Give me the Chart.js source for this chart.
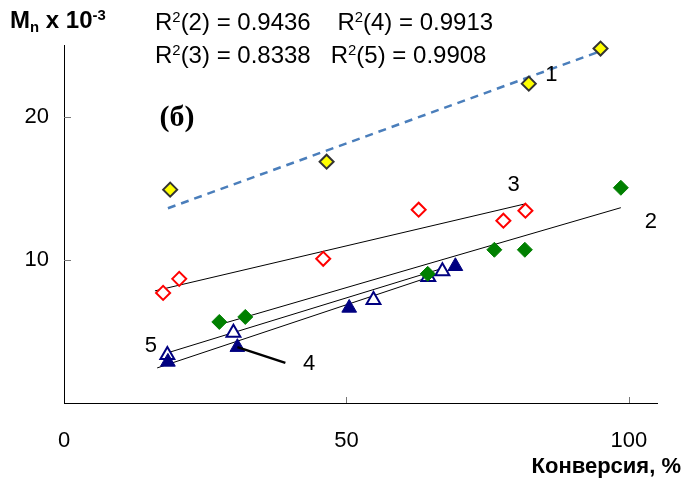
<!DOCTYPE html>
<html lang="ru">
<head>
<meta charset="utf-8">
<title>Mn от конверсии</title>
<script src="https://cdn.jsdelivr.net/npm/chart.js"></script>
<style>
  html, body { margin: 0; padding: 0; background: #fff; }
  .wrap { position: relative; width: 682px; height: 484px; font-family: Arial, "Liberation Sans", sans-serif; }
  .txt { position: absolute; white-space: nowrap; color: #000; line-height: 1; }
  .ytitle { left: 10px; top: 8px; font-size: 24px; font-weight: bold; }
  .xtitle { right: 1px; top: 455px; font-size: 22px; font-weight: bold; }
  .r2 { font-size: 24px; }
  sup { font-size: 0.62em; vertical-align: 0.55em; line-height: 0; }
  sub { font-size: 0.62em; vertical-align: -0.3em; line-height: 0; }
</style>
</head>
<body>
<div class="wrap">
  <canvas id="chart" width="682" height="484"></canvas>
  <div class="txt ytitle">M<sub>n</sub> x 10<sup>-3</sup></div>
  <div class="txt r2" style="left:155px; top:10px;">R<sup>2</sup>(2) = 0.9436&nbsp;&nbsp;&nbsp; R<sup>2</sup>(4) = 0.9913</div>
  <div class="txt r2" style="left:155px; top:43px;">R<sup>2</sup>(3) = 0.8338&nbsp;&nbsp; R<sup>2</sup>(5) = 0.9908</div>
  <div class="txt xtitle">Конверсия, %</div>
</div>
<script>
// точки (конверсия, %; Mn x 10^-3)
var s1X = [18.8, 46.5, 82.3, 95.0];
var s1Y = [14.9, 16.85, 22.3, 24.75];
var s2X = [27.5, 32.1, 64.4, 76.2, 81.6, 98.6];
var s2Y = [5.66, 6.01, 9.02, 10.7, 10.7, 15.03];
var s3X = [17.55, 20.4, 45.9, 62.8, 77.8, 81.7];
var s3Y = [7.69, 8.67, 10.07, 13.5, 12.73, 13.43];
var s4X = [18.4, 30.7, 50.5, 69.3];
var s4Y = [2.87, 3.9, 6.64, 9.55];
var s5X = [18.3, 30.0, 54.8, 64.5, 67.0];
var s5Y = [3.36, 4.9, 7.2, 8.8, 9.2];

// линии тренда (концы)
var t1X = [18.4, 94.5], t1Y = [13.6, 24.5];
var t2X = [27.3, 98.6], t2Y = [5.45, 13.64];
var t3X = [16.1, 81.6], t3Y = [7.83, 13.9];
var t4X = [16.5, 69.3], t4Y = [2.45, 9.4];
var t5X = [18.3, 67.0], t5Y = [3.5, 9.4];

// выноска к кривой 4
var leadX = [30.7, 39.2], leadY = [3.9, 2.8];

// номера кривых
var labTxt = ["1", "2", "3", "4", "5"];
var labX = [86.3, 103.9, 79.6, 43.4, 15.4];
var labY = [22.9, 12.66, 15.2, 2.7, 4.0];

var xTicks = [0, 50, 100];
var yTicks = [10, 20];

function pts(xs, ys) {
    return xs.map(function (x, i) { return { x: x, y: ys[i] }; });
}

function trend(xs, ys, extra) {
    var d = {
        type: "line", data: pts(xs, ys), showLine: true, pointRadius: 0,
        borderColor: "#000", borderWidth: 1, fill: false, order: 5
    };
    for (var k in extra) d[k] = extra[k];
    return d;
}

var textPlugin = {
    id: "extraText",
    afterDatasetsDraw: function (chart) {
        var ctx = chart.ctx, xs = chart.scales.x, ys = chart.scales.y;
        ctx.save();
        // внутренние засечки
        ctx.strokeStyle = "#777";
        ctx.lineWidth = 1;
        xTicks.forEach(function (v) {
            if (v === 0) return;
            var px = Math.round(xs.getPixelForValue(v)) + 0.5;
            ctx.beginPath(); ctx.moveTo(px, ys.bottom); ctx.lineTo(px, ys.bottom - 6); ctx.stroke();
        });
        yTicks.forEach(function (v) {
            var py = Math.round(ys.getPixelForValue(v)) + 0.5;
            ctx.beginPath(); ctx.moveTo(xs.left, py); ctx.lineTo(xs.left + 7, py); ctx.stroke();
        });
        ctx.fillStyle = "#000";
        ctx.textAlign = "center";
        ctx.textBaseline = "middle";
        ctx.font = "22px Arial, 'Liberation Sans', sans-serif";
        labTxt.forEach(function (t, i) {
            ctx.fillText(t, xs.getPixelForValue(labX[i]), ys.getPixelForValue(labY[i]));
        });
        ctx.font = "bold 30px 'Times New Roman', 'Liberation Serif', serif";
        ctx.fillText("(б)", xs.getPixelForValue(20.0), ys.getPixelForValue(19.9));
        ctx.restore();
    }
};

var chart = new Chart(document.getElementById("chart"), {
    type: "scatter",
    data: {
        datasets: [
            trend(t1X, t1Y, { borderColor: "#4a7ebb", borderWidth: 2.5, borderDash: [8, 6] }),
            trend(t2X, t2Y, {}),
            trend(t3X, t3Y, {}),
            trend(t4X, t4Y, {}),
            trend(t5X, t5Y, {}),
            trend(leadX, leadY, { borderWidth: 2.5, order: 0 }),
            { label: "1", data: pts(s1X, s1Y), pointStyle: "rectRot", pointRadius: 7,
              backgroundColor: "#ffff00", borderColor: "#333", borderWidth: 2, order: 1, clip: false },
            { label: "2", data: pts(s2X, s2Y), pointStyle: "rectRot", pointRadius: 7.5,
              backgroundColor: "#008000", borderColor: "#008000", borderWidth: 1, order: 1, clip: false },
            { label: "3", data: pts(s3X, s3Y), pointStyle: "rectRot", pointRadius: 7,
              backgroundColor: "#fff", borderColor: "#ff0000", borderWidth: 2, order: 1, clip: false },
            { label: "4", data: pts(s4X, s4Y), pointStyle: "triangle", pointRadius: 8.5,
              backgroundColor: "#000080", borderColor: "#000080", borderWidth: 1, order: 1, clip: false },
            { label: "5", data: pts(s5X, s5Y), pointStyle: "triangle", pointRadius: 8,
              backgroundColor: "#fff", borderColor: "#000080", borderWidth: 2, order: 1, clip: false }
        ]
    },
    options: {
        responsive: false,
        animation: false,
        layout: { padding: { top: 45, right: 25, left: 0, bottom: 0 } },
        plugins: { legend: { display: false }, tooltip: { enabled: false } },
        scales: {
            x: {
                type: "linear", min: 0, max: 105,
                afterBuildTicks: function (s) { s.ticks = xTicks.map(function (v) { return { value: v }; }); },
                afterFit: function (s) { s.height = 81; },
                grid: { display: false, drawTicks: false },
                border: { display: true, color: "#000", width: 1 },
                ticks: { padding: 25, color: "#000", font: { family: "Arial", size: 22 } }
            },
            y: {
                type: "linear", min: 0, max: 25,
                afterBuildTicks: function (s) { s.ticks = yTicks.map(function (v) { return { value: v }; }); },
                afterFit: function (s) { s.width = 64; },
                grid: { display: false, drawTicks: false },
                border: { display: true, color: "#000", width: 1 },
                ticks: { padding: 15, color: "#000", font: { family: "Arial", size: 22 } }
            }
        }
    },
    plugins: [textPlugin]
});
</script>
</body>
</html>
